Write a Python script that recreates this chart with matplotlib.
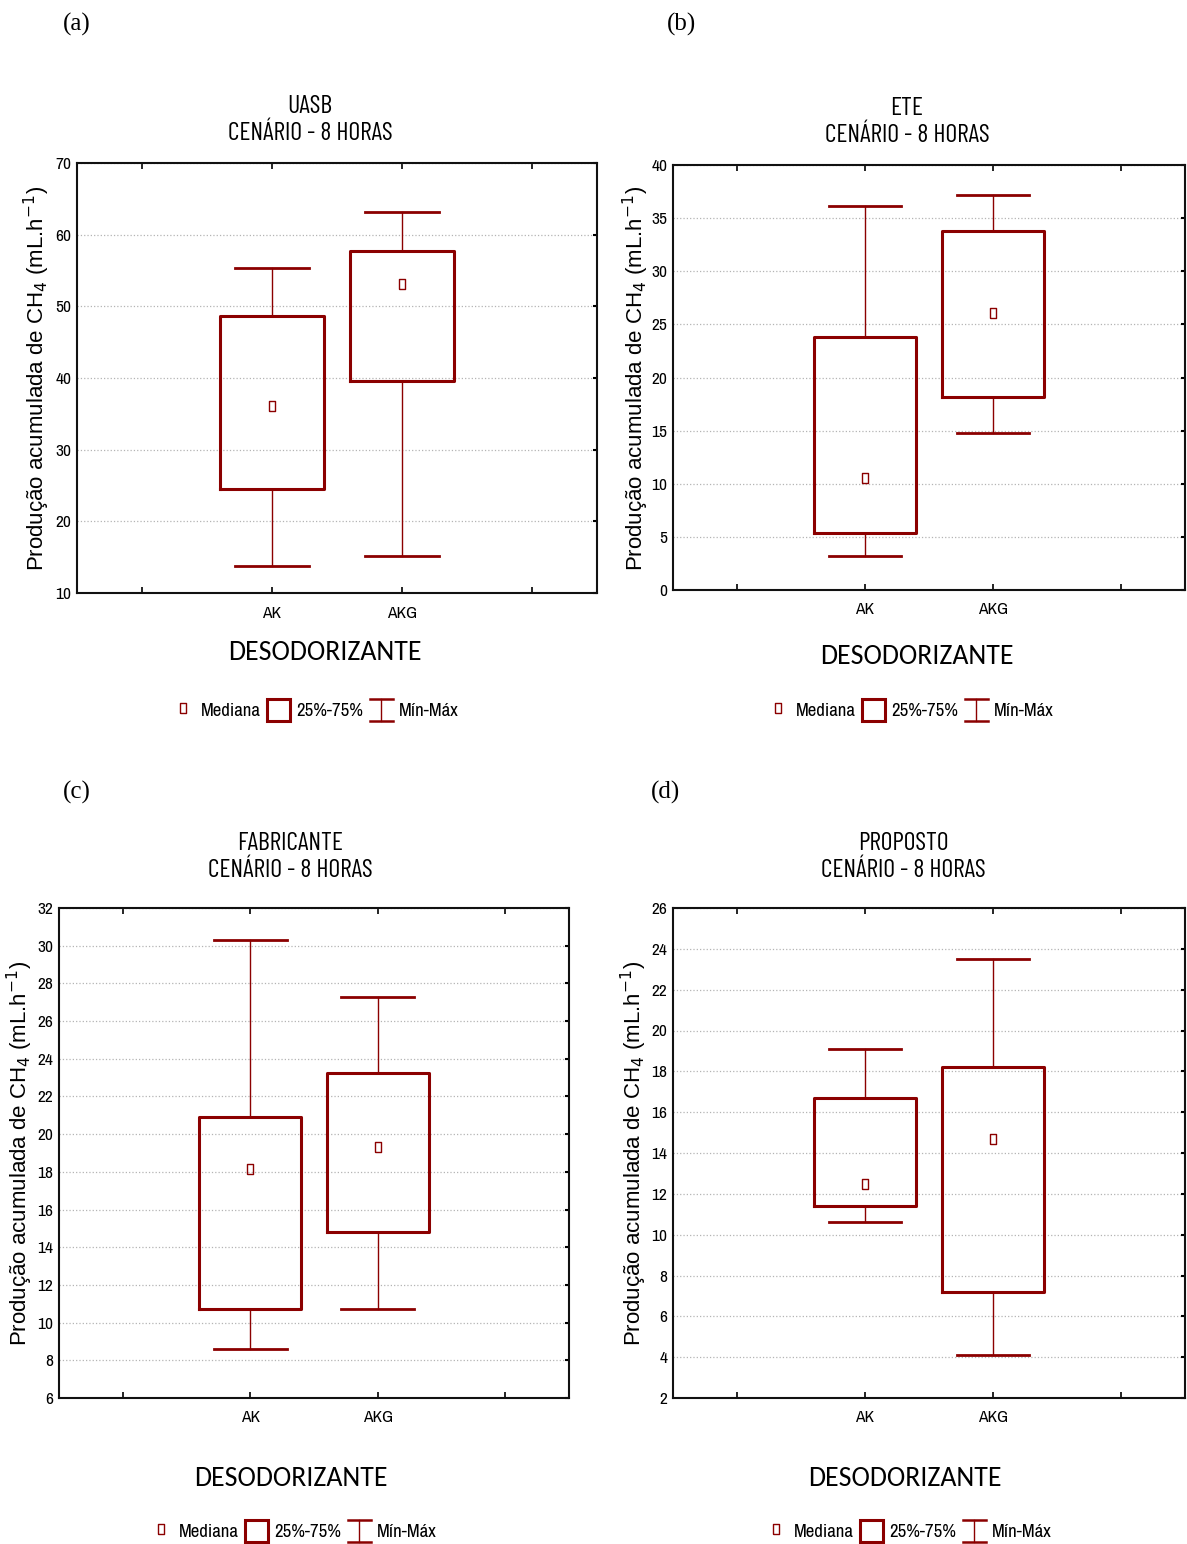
import matplotlib
matplotlib.use('Agg')
import matplotlib.pyplot as plt
from matplotlib.lines import Line2D
from matplotlib.patches import Patch
from matplotlib.legend_handler import HandlerBase

RED = '#8b0000'
NARROW = ['Archivo Narrow', 'DejaVu Sans']
COND = ['Barlow Condensed', 'Archivo Narrow', 'DejaVu Sans']

categories = ['AK', 'AKG']

# min, q1, median, q3, max for AK and AKG in each scenario
uasb_min = [13.7, 15.2]
uasb_q1 = [24.5, 39.6]
uasb_med = [36.1, 53.1]
uasb_q3 = [48.7, 57.7]
uasb_max = [55.4, 63.2]

ete_min = [3.2, 14.8]
ete_q1 = [5.4, 18.2]
ete_med = [10.5, 26.1]
ete_q3 = [23.8, 33.8]
ete_max = [36.1, 37.2]

fab_min = [8.6, 10.7]
fab_q1 = [10.7, 14.8]
fab_med = [18.15, 19.3]
fab_q3 = [20.9, 23.25]
fab_max = [30.3, 27.3]

prop_min = [10.6, 4.1]
prop_q1 = [11.4, 7.2]
prop_med = [12.5, 14.7]
prop_q3 = [16.7, 18.2]
prop_max = [19.1, 23.5]

panels = [
    dict(tag='(a)', name='UASB', lo=uasb_min, q1=uasb_q1, med=uasb_med, q3=uasb_q3, hi=uasb_max,
         ylim=(10, 70), step=10, rect=[77, 163, 597, 593],
         tag_xy=(77, 24), title_xy=(310, 120), xl_xy=(325, 653), leg_xy=(315, 710), yl_xy=(37, 378)),
    dict(tag='(b)', name='ETE', lo=ete_min, q1=ete_q1, med=ete_med, q3=ete_q3, hi=ete_max,
         ylim=(0, 40), step=5, rect=[673, 165, 1185, 590],
         tag_xy=(681, 24), title_xy=(907, 122), xl_xy=(917, 657), leg_xy=(910, 710), yl_xy=(636, 378)),
    dict(tag='(c)', name='FABRICANTE', lo=fab_min, q1=fab_q1, med=fab_med, q3=fab_q3, hi=fab_max,
         ylim=(6, 32), step=2, rect=[59, 908, 569, 1398],
         tag_xy=(77, 792), title_xy=(290, 857), xl_xy=(291, 1479), leg_xy=(293, 1531), yl_xy=(20, 1153)),
    dict(tag='(d)', name='PROPOSTO', lo=prop_min, q1=prop_q1, med=prop_med, q3=prop_q3, hi=prop_max,
         ylim=(2, 26), step=2, rect=[673, 908, 1185, 1398],
         tag_xy=(665, 792), title_xy=(903, 857), xl_xy=(905, 1478), leg_xy=(908, 1531), yl_xy=(634, 1153)),
]

W, H = 1187, 1544

# tall narrow hollow square used for the median
MED_MARK = [(-0.28, -0.5), (0.28, -0.5), (0.28, 0.5), (-0.28, 0.5), (-0.28, -0.5)]


class WhiskerKey:
    pass


class WhiskerHandler(HandlerBase):
    def create_artists(self, legend, orig_handle, xdescent, ydescent, width, height, fontsize, trans):
        x0, x1 = -xdescent, width - xdescent
        y0, y1 = -ydescent, height - ydescent
        cx = (x0 + x1) / 2
        arts = [Line2D([cx, cx], [y0, y1], color=RED, lw=1.0),
                Line2D([x0, x1], [y0, y0], color=RED, lw=1.8),
                Line2D([x0, x1], [y1, y1], color=RED, lw=1.8)]
        for a in arts:
            a.set_transform(trans)
        return arts


fig = plt.figure(figsize=(W / 100, H / 100), dpi=100)

for p in panels:
    l, t, r, b = p['rect']
    ax = fig.add_axes([l / W, 1 - b / H, (r - l) / W, (b - t) / H])
    stats = []
    for i, c in enumerate(categories):
        stats.append(dict(label=c, whislo=p['lo'][i], q1=p['q1'][i], med=p['med'][i],
                          mean=p['med'][i], q3=p['q3'][i], whishi=p['hi'][i], fliers=[]))
    ax.bxp(stats, positions=[1, 2], widths=0.8, capwidths=0.57, showmeans=True, meanline=False,
           showfliers=False, patch_artist=False,
           boxprops=dict(color=RED, linewidth=2.2),
           whiskerprops=dict(color=RED, linewidth=1.0),
           capprops=dict(color=RED, linewidth=2.0),
           medianprops=dict(linewidth=0),
           meanprops=dict(marker=MED_MARK, markersize=7, markerfacecolor='none',
                          markeredgecolor=RED, markeredgewidth=1.0))
    ax.set_xlim(-0.5, 3.5)
    ax.set_xticks([0, 1, 2, 3])
    ax.set_xticklabels(['', 'AK', 'AKG', ''], family=NARROW, fontsize=12.5)
    lo, hi = p['ylim']
    yt = list(range(lo, hi + 1, p['step']))
    ax.set_ylim(lo, hi)
    ax.set_yticks(yt)
    ax.set_yticklabels([str(v) for v in yt], family=NARROW, fontsize=12.5)
    ax.grid(axis='y', color='#b4b4b4', linestyle=':', linewidth=0.9)
    ax.set_axisbelow(True)
    ax.tick_params(axis='x', direction='in', length=4, width=1.2, top=True, pad=9, colors='black')
    ax.tick_params(axis='y', direction='in', length=0, right=True, pad=4)
    for s in ax.spines.values():
        s.set_linewidth(1.5)
        s.set_color('#111111')
    # small inward ticks on the right side only
    for tl in ax.yaxis.get_ticklines()[1::2]:
        tl.set_markersize(3)
        tl.set_markeredgewidth(1.5)

    fig.text(p['tag_xy'][0] / W, 1 - p['tag_xy'][1] / H, p['tag'], ha='center', va='center',
             family='Liberation Serif', fontsize=18)
    fig.text(p['title_xy'][0] / W, 1 - p['title_xy'][1] / H, p['name'] + '\nCENÁRIO - 8 HORAS',
             ha='center', va='center', family=COND, fontsize=18.5, linespacing=1.25)
    fig.text(p['xl_xy'][0] / W, 1 - p['xl_xy'][1] / H, 'DESODORIZANTE', ha='center', va='center',
             family=['Carlito', 'DejaVu Sans'], fontsize=20)
    fig.text(p['yl_xy'][0] / W, 1 - p['yl_xy'][1] / H,
             'Produção acumulada de CH$_4$ (mL.h$^{-1}$)', rotation=90, ha='center', va='center',
             family='Liberation Sans', fontsize=16)

    handles = [Line2D([], [], marker=MED_MARK, ls='none', markersize=7, markerfacecolor='none',
                      markeredgecolor=RED, markeredgewidth=1.0),
               Patch(facecolor='white', edgecolor=RED, linewidth=2.2),
               WhiskerKey()]
    fig.legend(handles, ['Mediana', '25%-75%', 'Mín-Máx'], ncol=3, frameon=False,
               loc='center', bbox_to_anchor=(p['leg_xy'][0] / W, 1 - p['leg_xy'][1] / H),
               handler_map={WhiskerKey: WhiskerHandler()}, handlelength=1.25, handleheight=1.45,
               handletextpad=0.3, columnspacing=0.35, prop=dict(family=NARROW, size=13.5))

fig.savefig('out.png', dpi=100)
